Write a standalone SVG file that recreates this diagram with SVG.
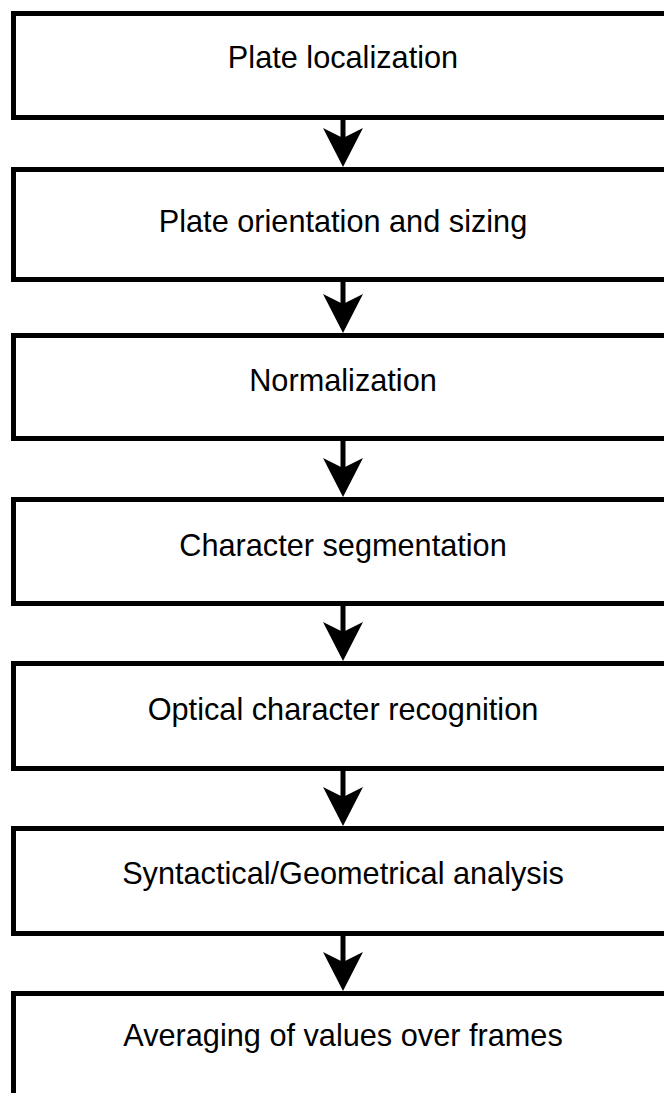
<svg xmlns="http://www.w3.org/2000/svg" width="664" height="1093" viewBox="0 0 664 1093">
  <style>
    .box { fill: #ffffff; stroke: #000000; stroke-width: 5; }
    .lbl { font-family: "Liberation Sans", Arial, Helvetica, sans-serif; font-size: 30.7px; fill: #000000; text-anchor: middle; }
    .conn { stroke: #000000; stroke-width: 5; fill: none; marker-end: url(#arrow); }
  </style>
  <defs>
    <marker id="arrow" markerUnits="userSpaceOnUse" viewBox="0 0 39 40" markerWidth="39" markerHeight="40" refX="10" refY="20" orient="auto">
      <path d="M39,20 L0,0 L10,20 L0,40 Z" fill="#000000"/>
    </marker>
  </defs>
  <rect width="664" height="1093" fill="#ffffff"/>
  <g id="connectors">
    <line class="conn" x1="343" y1="117.5" x2="343" y2="138"/>
    <line class="conn" x1="343" y1="279.5" x2="343" y2="304"/>
    <line class="conn" x1="343" y1="438.5" x2="343" y2="468"/>
    <line class="conn" x1="343" y1="603.5" x2="343" y2="632"/>
    <line class="conn" x1="343" y1="768.5" x2="343" y2="797"/>
    <line class="conn" x1="343" y1="933.5" x2="343" y2="962"/>
  </g>
  <g id="node1">
    <rect class="box" x="13.5" y="13.5" width="680" height="104"/>
    <text class="lbl" x="343" y="67.5">Plate localization</text>
  </g>
  <g id="node2">
    <rect class="box" x="13.5" y="169.5" width="680" height="110"/>
    <text class="lbl" x="343" y="232">Plate orientation and sizing</text>
  </g>
  <g id="node3">
    <rect class="box" x="13.5" y="335.5" width="680" height="103"/>
    <text class="lbl" x="343" y="391">Normalization</text>
  </g>
  <g id="node4">
    <rect class="box" x="13.5" y="499.5" width="680" height="104"/>
    <text class="lbl" x="343" y="556">Character segmentation</text>
  </g>
  <g id="node5">
    <rect class="box" x="13.5" y="663.5" width="680" height="105"/>
    <text class="lbl" x="343" y="720">Optical character recognition</text>
  </g>
  <g id="node6">
    <rect class="box" x="13.5" y="828.5" width="680" height="105"/>
    <text class="lbl" x="343" y="884">Syntactical/Geometrical analysis</text>
  </g>
  <g id="node7">
    <rect class="box" x="13.5" y="993.5" width="680" height="140"/>
    <text class="lbl" x="343" y="1046">Averaging of values over frames</text>
  </g>
</svg>
